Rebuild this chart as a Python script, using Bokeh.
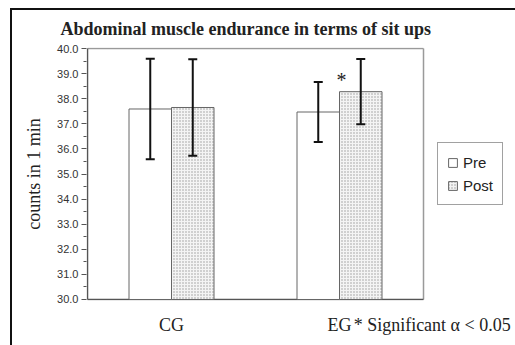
from bokeh.plotting import figure
from bokeh.models import (ColumnDataSource, Range1d, FixedTicker, Whisker, TeeHead,
                          Label, Legend, LegendItem, NumeralTickFormatter)
from bokeh.embed import file_html
from bokeh.resources import INLINE

groups = ["CG", "EG"]
pre = [37.59, 37.47]
post = [37.65, 38.28]
pre_sd = [2.0, 1.2]
post_sd = [1.92, 1.3]
series = ["Pre", "Post"]
title_text = "Abdominal muscle endurance in terms of sit ups"
y_label = "counts in 1 min"
note = "* Significant  \u03b1 < 0.05"
y_min, y_max = 30, 40

centers = [i + 0.5 for i in range(len(groups))]
x_end = float(len(groups))
note_pos = 2.065
bw = 0.253

pre_src = ColumnDataSource(dict(
    left=[c - bw for c in centers], right=centers, top=pre,
    x=[c - bw / 2 for c in centers],
    upper=[v + s for v, s in zip(pre, pre_sd)], lower=[v - s for v, s in zip(pre, pre_sd)]))
post_src = ColumnDataSource(dict(
    left=centers, right=[c + bw for c in centers], top=post,
    x=[c + bw / 2 for c in centers],
    upper=[v + s for v, s in zip(post, post_sd)], lower=[v - s for v, s in zip(post, post_sd)]))

p = figure(width=505, height=337, output_backend="svg", toolbar_location=None,
           x_range=Range1d(-0.006, 2.5476), y_range=Range1d(29.96, 40.04),
           min_border_left=76, min_border_right=0, min_border_top=39, min_border_bottom=45)
p.margin = (8, 0, 0, 10)
p.border_fill_alpha = 0
p.background_fill_alpha = 0
p.styles = {"box-shadow": "inset 2px 2px 0 #111", "background-color": "white"}

p.xgrid.visible = False
p.ygrid.visible = False
p.outline_line_color = None

# title
p.title.text = title_text
p.title.align = "left"
p.title.offset = -26
p.title.standoff = 17
p.title.vertical_align = "bottom"
p.title.text_font = "Liberation Serif"
p.title.text_font_style = "bold"
p.title.text_font_size = "18px"
p.title.text_line_height = 0.6
p.title.text_color = "#222222"

# plot-area frame lines: top and right (grey), left and bottom axis lines (dark)
p.segment(x0=[0, x_end], y0=[y_max, y_min], x1=[x_end, x_end], y1=[y_max, y_max],
          line_color="#9a9a9a", line_width=1.5)
p.segment(x0=[0, 0], y0=[y_min, y_min], x1=[0, x_end], y1=[y_max, y_min],
          line_color="#555555", line_width=1.5)

r_pre = p.quad(left="left", right="right", top="top", bottom=y_min, source=pre_src,
               fill_color="white", line_color="#666666", line_width=1)
r_post = p.quad(left="left", right="right", top="top", bottom=y_min, source=post_src,
                fill_color="#f4f4f4", line_color="#666666", line_width=1,
                hatch_pattern="dot", hatch_color="#9a9a9a", hatch_scale=3, hatch_weight=1)

for src in (pre_src, post_src):
    w = Whisker(base="x", upper="upper", lower="lower", source=src, level="overlay",
                line_color="#111111", line_width=2,
                upper_head=TeeHead(size=9, line_width=2, line_color="#111111"),
                lower_head=TeeHead(size=9, line_width=2, line_color="#111111"))
    p.add_layout(w)

# axes
p.yaxis.bounds = (y_min, y_max)
p.yaxis.ticker = FixedTicker(ticks=list(range(y_min, y_max + 1)),
                             minor_ticks=[y_min + 0.5 + i for i in range(y_max - y_min)])
p.yaxis.formatter = NumeralTickFormatter(format="0.0")
p.yaxis.major_label_text_font = "Liberation Sans"
p.yaxis.major_label_text_font_size = "11px"
p.yaxis.major_label_text_color = "#333333"
p.yaxis.axis_line_color = None
p.yaxis.major_tick_line_color = "#555555"
p.yaxis.minor_tick_line_color = "#555555"
p.yaxis.major_tick_out = 5
p.yaxis.major_tick_in = 0
p.yaxis.minor_tick_out = 3
p.yaxis.minor_tick_in = 0
p.yaxis.major_label_standoff = 3
p.yaxis.axis_label = y_label
p.yaxis.axis_label_text_font = "Liberation Serif"
p.yaxis.axis_label_text_font_style = "normal"
p.yaxis.axis_label_text_font_size = "18px"
p.yaxis.axis_label_text_color = "#222222"
p.yaxis.axis_label_standoff = 10

p.xaxis.ticker = FixedTicker(ticks=centers + [note_pos])
labels = {c: g for c, g in zip(centers, groups)}
labels[note_pos] = note
p.xaxis.major_label_overrides = labels
p.xaxis.major_label_text_font = "Liberation Serif"
p.xaxis.major_label_text_font_size = "18px"
p.xaxis.major_label_text_color = "#222222"
p.xaxis.axis_line_color = None
p.xaxis.major_tick_line_color = None
p.xaxis.minor_tick_line_color = None
p.xaxis.major_label_standoff = 8

# significance star
p.add_layout(Label(x=1.512, y=38.75, text="*", text_align="center", text_baseline="middle",
                   text_font="Liberation Serif", text_font_size="20px", text_color="#222222"))

legend = Legend(items=[LegendItem(label=series[0], renderers=[r_pre]),
                       LegendItem(label=series[1], renderers=[r_post])],
                location=(351, 95), orientation="vertical",
                label_text_font="Liberation Sans", label_text_font_size="15px",
                label_text_color="#222222",
                glyph_width=11, glyph_height=11, label_standoff=5, spacing=3, label_height=20,
                padding=9, margin=0, border_line_color="#444444", border_line_width=1,
                background_fill_color="white", background_fill_alpha=1.0)
p.add_layout(legend)

open("out.html", "w").write(file_html(p, INLINE))
